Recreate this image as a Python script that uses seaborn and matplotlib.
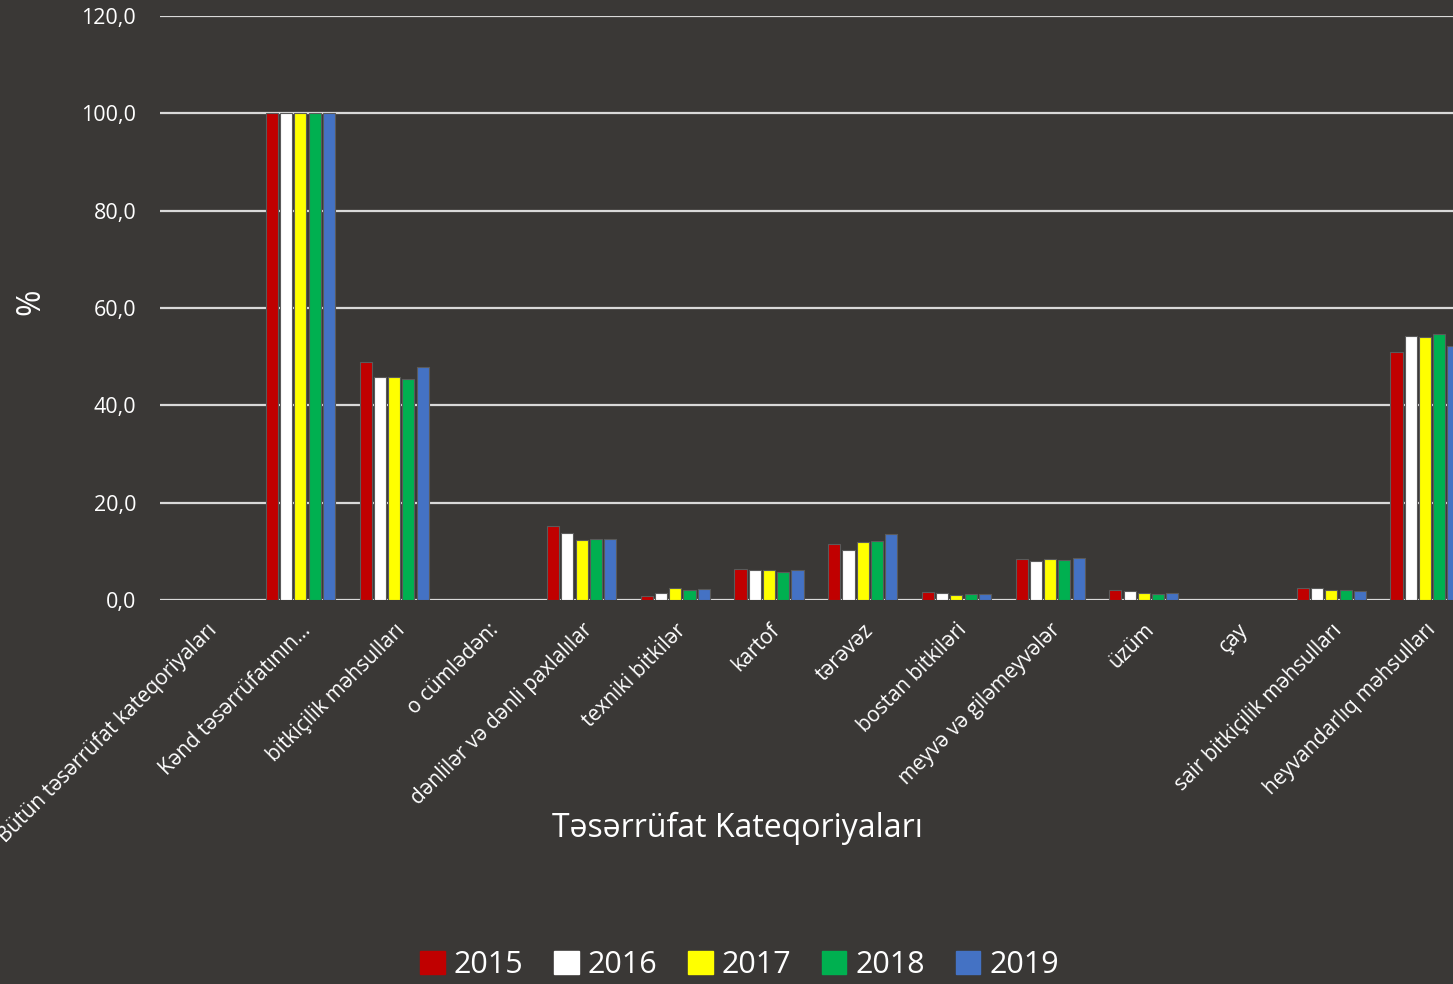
import numpy as np
import pandas as pd
import seaborn as sns
from matplotlib import pyplot as plt
import matplotlib.patches as mpatches

categories = ['Bütün təsərrüfat kateqoriyaları', 'Kənd təsərrüfatının…', 'bitkiçilik məhsulları',
              'o cümlədən:', 'dənlilər və dənli paxlalılar', 'texniki bitkilər', 'kartof', 'tərəvəz',
              'bostan bitkiləri', 'meyvə və giləmeyvələr', 'üzüm', 'çay', 'sair bitkiçilik məhsulları',
              'heyvandarlıq məhsulları']
years = ['2015', '2016', '2017', '2018', '2019']
nan = np.nan
v2015 = [nan, 100.0, 49.0, nan, 15.3, 0.8, 6.5, 11.5, 1.7, 8.4, 2.1, nan, 2.6, 51.0]
v2016 = [nan, 100.0, 45.8, nan, 13.9, 1.4, 6.3, 10.4, 1.5, 8.0, 1.8, nan, 2.6, 54.2]
v2017 = [nan, 100.0, 45.9, nan, 12.3, 2.5, 6.3, 11.9, 1.0, 8.5, 1.4, nan, 2.2, 54.1]
v2018 = [nan, 100.0, 45.5, nan, 12.6, 2.2, 5.7, 12.1, 1.2, 8.3, 1.3, nan, 2.1, 54.7]
v2019 = [nan, 100.0, 47.9, nan, 12.5, 2.4, 6.2, 13.6, 1.2, 8.6, 1.4, nan, 1.9, 52.1]
colors = ['#C00000', '#FFFFFF', '#FFFF00', '#00B050', '#4472C4']

bg = '#3a3836'
df = pd.DataFrame({'cat': categories * 5,
                   'year': np.repeat(years, len(categories)),
                   'val': v2015 + v2016 + v2017 + v2018 + v2019})
df = df.dropna()

plt.rcParams['font.family'] = ['Open Sans', 'DejaVu Sans']
fig = plt.figure(figsize=(14.53, 9.84), dpi=100, facecolor=bg)
ax = fig.add_axes([0.110, 0.390, 0.903, 0.594])
ax.set_facecolor(bg)

sns.barplot(data=df, x='cat', y='val', hue='year', order=categories, hue_order=years,
            palette=colors, saturation=1, width=0.76, gap=0.15, errorbar=None, ax=ax,
            edgecolor='#5a5a5a', linewidth=0.8, legend=False, zorder=3)

ax.set_ylim(0, 120)
ax.set_xlim(-0.5, len(categories) - 0.5)
ax.set_yticks(np.arange(0, 121, 20))
ax.set_yticklabels([f'{v:.1f}'.replace('.', ',') for v in np.arange(0, 121, 20)],
                   color='white', fontsize=15.5)
ax.grid(axis='y', color='#d9d9d9', linewidth=1.6, zorder=0)
ax.set_axisbelow(True)
ax.tick_params(axis='y', length=0, pad=17)
ax.tick_params(axis='x', length=0, pad=14)
for s in ax.spines.values():
    s.set_visible(False)

ax.set_xticks(range(len(categories)))
ax.set_xticklabels(categories, rotation=45, ha='right', rotation_mode='anchor',
                   color='white', fontsize=15)
ax.set_xlabel('Təsərrüfat Kateqoriyaları', color='white', fontsize=23)
ax.xaxis.set_label_coords(0.44, -0.362)
ax.set_ylabel('%', color='white', fontsize=23)
ax.yaxis.set_label_coords(-0.086, 0.51)

handles = [mpatches.Patch(color=c, label=y) for c, y in zip(colors, years)]
fig.legend(handles=handles, loc='lower center', bbox_to_anchor=(0.509, -0.024), ncol=5,
           frameon=False, fontsize=22, handlelength=0.8, handleheight=0.8,
           handletextpad=0.3, columnspacing=1.0, labelcolor='white')

fig.savefig('out.png', dpi=100, facecolor=bg)
